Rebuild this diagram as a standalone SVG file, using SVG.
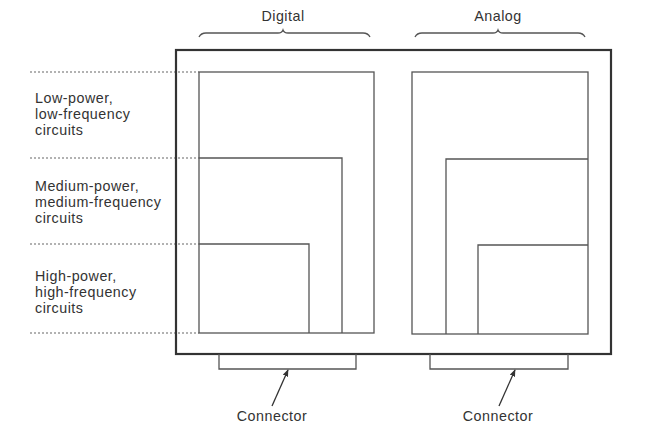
<svg xmlns="http://www.w3.org/2000/svg" width="663" height="436" viewBox="0 0 663 436">
<defs>
<style>
.t{font-family:"Liberation Sans",Arial,sans-serif;font-size:14.3px;letter-spacing:0.5px;fill:#333}
.r{fill:none;stroke:#555;stroke-width:1.3}
.b{fill:none;stroke:#333;stroke-width:2.2}
.d{fill:none;stroke:#999;stroke-width:1.3;stroke-dasharray:2 2}
.br{fill:none;stroke:#555;stroke-width:1.3}
.c{stroke:#333;stroke-width:1.3;fill:none}
</style>
<marker id="ah" viewBox="0 0 10 10" refX="9" refY="5" markerWidth="7" markerHeight="7" orient="auto" markerUnits="userSpaceOnUse">
<path d="M0,1 L10,5 L0,9 Z" fill="#333"/>
</marker>
</defs>
<rect width="663" height="436" fill="#fff"/>
<g id="guides">
<line class="d" x1="30" y1="72" x2="199" y2="72"/>
<line class="d" x1="30" y1="158" x2="199" y2="158"/>
<line class="d" x1="30" y1="244" x2="199" y2="244"/>
<line class="d" x1="30" y1="333" x2="199" y2="333"/>
</g>
<g id="labels">
<text class="t"><tspan x="35" y="103">Low-power,</tspan><tspan x="35" y="119">low-frequency</tspan><tspan x="35" y="135">circuits</tspan></text>
<text class="t"><tspan x="35" y="191">Medium-power,</tspan><tspan x="35" y="207">medium-frequency</tspan><tspan x="35" y="223">circuits</tspan></text>
<text class="t"><tspan x="35" y="281">High-power,</tspan><tspan x="35" y="297">high-frequency</tspan><tspan x="35" y="313">circuits</tspan></text>
</g>
<g id="board">
<rect class="b" x="176" y="50" width="435" height="304"/>
</g>
<g id="digital">
<text class="t" x="283" y="21" text-anchor="middle">Digital</text>
<path class="br" d="M199,37 Q201,33 206,33 L278,33 Q282,33 283,30 Q284,33 288,33 L363,33 Q368,33 370,37"/>
<rect class="r" x="199" y="72" width="175" height="261"/>
<polyline class="r" points="199,158 342,158 342,333"/>
<polyline class="r" points="199,244 309,244 309,333"/>
</g>
<g id="analog">
<text class="t" x="498" y="21" text-anchor="middle">Analog</text>
<path class="br" d="M415,37 Q417,33 422,33 L493,33 Q497,33 498,30 Q499,33 503,33 L578,33 Q583,33 585,37"/>
<rect class="r" x="412" y="72" width="176" height="262"/>
<polyline class="r" points="446,334 446,159 588,159"/>
<polyline class="r" points="478,334 478,245 588,245"/>
</g>
<g id="connector-digital">
<polyline class="r" points="219,354 219,369 356,369 356,354"/>
<text class="t" x="272" y="421" text-anchor="middle">Connector</text>
</g>
<g id="connector-analog">
<polyline class="r" points="430,354 430,369 568,369 568,354"/>
<text class="t" x="498" y="421" text-anchor="middle">Connector</text>
</g>
<g id="connectors">
<line class="c" x1="272" y1="406" x2="288" y2="370" marker-end="url(#ah)"/>
<line class="c" x1="499" y1="406" x2="515" y2="370" marker-end="url(#ah)"/>
</g>
</svg>
